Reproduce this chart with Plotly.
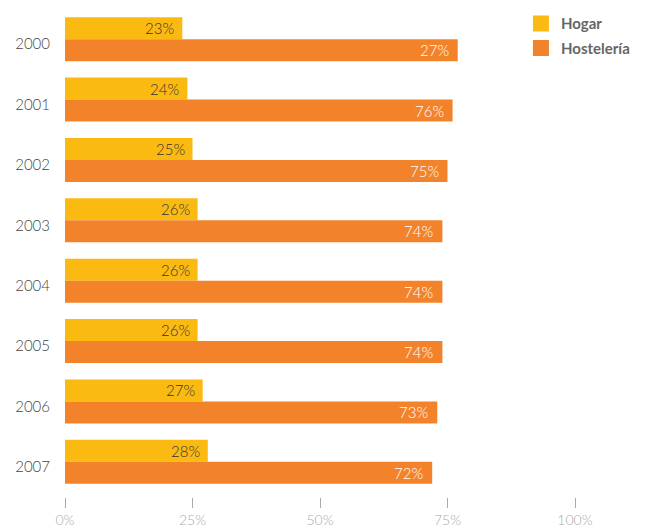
import plotly.graph_objects as go

years = ["2000", "2001", "2002", "2003", "2004", "2005", "2006", "2007"]
hogar = [23, 24, 25, 26, 26, 26, 27, 28]
hosteleria = [77, 76, 75, 74, 74, 74, 73, 72]
hogar_labels = ["23%", "24%", "25%", "26%", "26%", "26%", "27%", "28%"]
hosteleria_labels = ["27%", "76%", "75%", "74%", "74%", "74%", "73%", "72%"]
x_ticks = [0, 25, 50, 75, 100]
x_tick_labels = ["0%", "25%", "50%", "75%", "100%"]

FONT = "Lato"
C_HOGAR = "#FBBA12"
C_HOST = "#F3832B"
bw = 0.364
shift = 0.083
pitch = (497 - 14) / 8.0

fig = go.Figure()
fig.add_trace(go.Bar(
    name="Hogar", y=years, x=hogar, orientation="h",
    marker=dict(color=C_HOGAR, line=dict(width=0)),
    width=bw, offset=-shift - bw, showlegend=False, hoverinfo="skip",
))
fig.add_trace(go.Bar(
    name="Hostelería", y=years, x=hosteleria, orientation="h",
    marker=dict(color=C_HOST, line=dict(width=0)),
    width=bw, offset=-shift, showlegend=False, hoverinfo="skip",
))
# legend-only entries with larger square swatches
for nm, col, grp in [("Hogar", C_HOGAR, "a"), ("Hostelería", C_HOST, "b")]:
    fig.add_trace(go.Scatter(
        x=[None], y=[years[0]], mode="markers", name=nm, legendgroup=grp,
        marker=dict(symbol="square", size=16, color=col), hoverinfo="skip",
    ))

ys_hogar = (shift + bw / 2) * pitch
ys_host = -(bw / 2 - shift) * pitch
for i, (v, t) in enumerate(zip(hogar, hogar_labels)):
    fig.add_annotation(x=v, y=i, text=t, showarrow=False, xanchor="right",
                       yanchor="middle", xshift=-6, yshift=ys_hogar,
                       font=dict(family=FONT, size=15, color="#333333", weight=300))
for i, (v, t) in enumerate(zip(hosteleria, hosteleria_labels)):
    fig.add_annotation(x=v, y=i, text=t, showarrow=False, xanchor="right",
                       yanchor="middle", xshift=-7, yshift=ys_host,
                       font=dict(family=FONT, size=15, color="#ffffff", weight=300))

fig.update_layout(
    width=641, height=519,
    margin=dict(l=57, r=74, t=6, b=30, autoexpand=False),
    paper_bgcolor="white", plot_bgcolor="white",
    barmode="overlay",
    showlegend=True,
    legend=dict(
        x=0.894, y=1.014, xanchor="left", yanchor="top",
        font=dict(family=FONT, size=15, color="#666666", weight=700),
        itemsizing="trace", tracegroupgap=2, itemwidth=30,
        bgcolor="rgba(0,0,0,0)",
    ),
    xaxis=dict(
        range=[0, 100], tickvals=x_ticks, ticktext=x_tick_labels,
        showgrid=False, zeroline=False, showline=False, automargin=False,
        ticks="outside", ticklen=10, tickcolor="#aaaaaa", tickwidth=1,
        tickfont=dict(family=FONT, size=14, color="#aaaaaa", weight=300),
    ),
    yaxis=dict(
        type="category", categoryorder="array", categoryarray=years,
        range=[len(years) - 0.5, -0.5],
        showgrid=False, zeroline=False, showline=False, automargin=False,
        ticks="", ticklabelstandoff=14,
        tickfont=dict(family=FONT, size=15, color="#444444", weight=300),
    ),
    font=dict(family=FONT),
)

fig.write_html("out.html")
